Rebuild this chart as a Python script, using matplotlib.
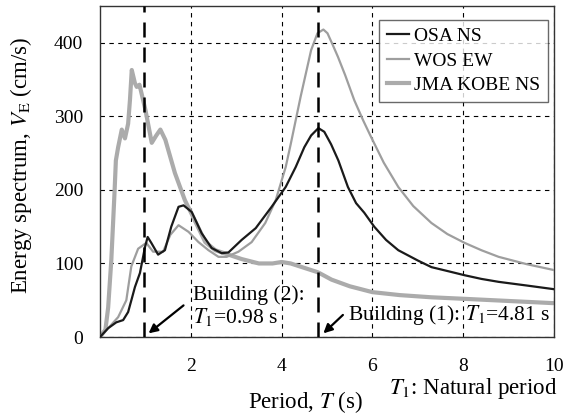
import matplotlib
matplotlib.use("Agg")
import matplotlib.pyplot as plt

plt.rcParams['font.family'] = ['Liberation Serif', 'DejaVu Serif']
plt.rcParams['mathtext.fontset'] = 'stix'

# Energy spectra V_E (cm/s) versus period T (s)
T_osa = [0, 0.18, 0.36, 0.51, 0.62, 0.70, 0.77, 0.88, 0.99, 1.05, 1.13, 1.28, 1.43,
         1.57, 1.73, 1.84, 2.02, 2.24, 2.46, 2.68, 2.83, 3.12, 3.43, 3.78, 4.09,
         4.31, 4.5, 4.65, 4.81, 4.94, 5.09, 5.25, 5.46, 5.64, 5.82, 6.04, 6.3,
         6.57, 7.0, 7.3, 7.7, 8.03, 8.4, 8.78, 9.4, 10.0]
V_osa = [0, 12, 20, 23, 34, 52, 68, 87, 122, 136, 128, 112, 118,
         150, 177, 179, 170, 141, 121, 114, 115, 132, 148, 177, 204,
         231, 258, 274, 284, 279, 262, 240, 204, 182, 169, 150, 132,
         118, 104, 95, 89, 84, 79, 75, 70, 65]

T_wos = [0, 0.18, 0.40, 0.58, 0.69, 0.84, 1.02, 1.17, 1.39, 1.55, 1.73, 1.95, 2.17,
         2.39, 2.61, 2.79, 3.05, 3.34, 3.64, 3.87, 4.09, 4.2, 4.42, 4.65, 4.79,
         4.92, 5.01, 5.12, 5.24, 5.4, 5.6, 5.8, 5.97, 6.25, 6.57, 6.9, 7.3, 7.65,
         8.03, 8.4, 8.78, 9.4, 10.0]
V_wos = [0, 12, 27, 50, 96, 120, 128, 116, 116, 139, 152, 143, 129,
         118, 109, 109, 116, 129, 155, 186, 231, 262, 327, 390, 413,
         418, 413, 398, 381, 356, 322, 294, 272, 237, 204, 178, 155, 140,
         128, 118, 109, 99, 91]

T_jma = [0, 0.12, 0.18, 0.25, 0.32, 0.35, 0.40, 0.48, 0.55, 0.62, 0.66, 0.70, 0.77,
         0.81, 0.87, 1.0, 1.14, 1.24, 1.33, 1.44, 1.65, 1.87, 2.1, 2.32, 2.54,
         2.83, 3.12, 3.5, 3.8, 4.0, 4.2, 4.4, 4.6, 4.8, 5.1, 5.5, 6.0, 6.6,
         7.3, 8.0, 9.0, 10.0]
V_jma = [0, 10, 40, 105, 196, 240, 258, 282, 270, 290, 322, 363, 345,
         340, 343, 309, 264, 274, 282, 268, 223, 186, 157, 129, 118,
         112, 106, 100, 100, 102, 100, 96, 92, 88, 78, 69, 61, 57,
         54, 52, 49, 46]

T1_building1 = 4.81
T1_building2 = 0.98

x_ticks = [2, 4, 6, 8, 10]
y_ticks = [0, 100, 200, 300, 400]

fig = plt.figure(figsize=(5.7, 4.17), dpi=100)
ax = fig.add_axes([0.1754, 0.1918, 0.7966, 0.7938])

ax.plot(T_osa, V_osa, color='#1a1a1a', lw=1.6, label='OSA NS', zorder=4)
ax.plot(T_wos, V_wos, color='#9e9e9e', lw=1.6, label='WOS EW', zorder=3)
ax.plot(T_jma, V_jma, color='#ababab', lw=3.0, label='JMA KOBE NS', zorder=2,
        solid_joinstyle='round')

for t1 in (T1_building1, T1_building2):
    ax.axvline(t1, color='black', lw=1.8, dashes=(6, 4), zorder=5)

ax.set_xlim(0, 10)
ax.set_ylim(0, 450)
ax.set_xticks(x_ticks)
ax.set_yticks(y_ticks)
ax.tick_params(length=0, labelsize=14)
ax.tick_params(axis='x', pad=15)
ax.tick_params(axis='y', pad=12)
ax.grid(True, color='black', lw=0.8, linestyle=(0, (4, 4)))
for s in ax.spines.values():
    s.set_linewidth(1.0)
    s.set_color('#333333')

fig.text(0.037, 0.604, r'Energy spectrum, $V_{\mathrm{E}}$ (cm/s)', fontsize=16.5,
         rotation=90, ha='center', va='center')
fig.text(0.535, 0.036, r'Period, $T$ (s)', fontsize=16.5, ha='center', va='center')
fig.text(0.977, 0.068, r'$T_1$: Natural period', fontsize=16.5, ha='right', va='center')

leg = ax.legend(loc='upper right', fontsize=14, frameon=True, fancybox=False,
                edgecolor='#444444', handlelength=1.13, handletextpad=0.26,
                borderpad=0.4, labelspacing=0.35, borderaxespad=0,
                bbox_to_anchor=(0.987, 0.958))
leg.get_frame().set_linewidth(1.0)

arrow = dict(arrowstyle='-|>', color='black', lw=1.6, shrinkA=0, shrinkB=0,
             mutation_scale=13)
ax.text(2.04, 41.5, 'Building (2):\n' + r'$T_1$=0.98 s', fontsize=15.5,
        ha='left', va='center', linespacing=1.05)
ax.annotate('', xy=(1.07, 5), xytext=(1.84, 43), arrowprops=arrow)
ax.text(5.46, 30, r'Building (1): $T_1$=4.81 s', fontsize=15.5, ha='left', va='center')
ax.annotate('', xy=(4.92, 5), xytext=(5.35, 30), arrowprops=arrow)

fig.savefig('out.png', dpi=100)
